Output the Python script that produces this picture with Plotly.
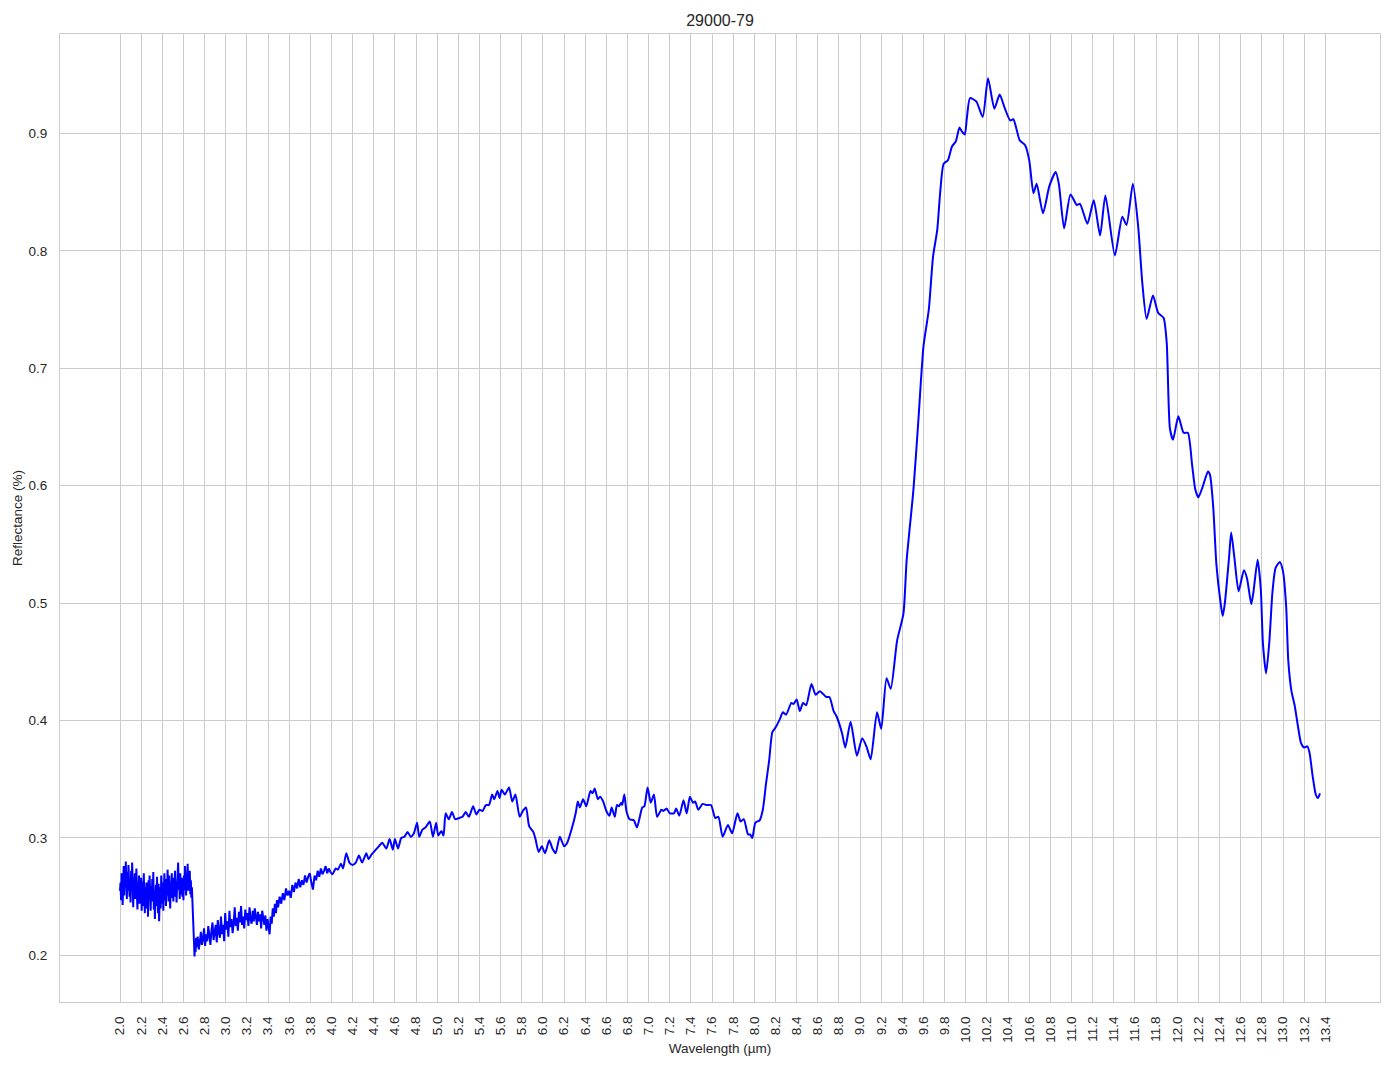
import plotly.graph_objects as go

title_text = "29000-79"
x_label = "Wavelength (µm)"
y_label = "Reflectance (%)"

# Noisy region 2.000 - 2.720 µm
wl_a = [2.000, 2.005, 2.010, 2.015, 2.020, 2.025, 2.030, 2.035, 2.040, 2.045, 2.050,
        2.055, 2.060, 2.065, 2.070, 2.075, 2.080, 2.085, 2.090, 2.095, 2.100,
        2.105, 2.110, 2.115, 2.120, 2.125, 2.130, 2.135, 2.140, 2.145, 2.150,
        2.155, 2.160, 2.165, 2.170, 2.175, 2.180, 2.185, 2.190, 2.195, 2.200,
        2.205, 2.210, 2.215, 2.220, 2.225, 2.230, 2.235, 2.240, 2.245, 2.250,
        2.255, 2.260, 2.265, 2.270, 2.275, 2.280, 2.285, 2.290, 2.295, 2.300,
        2.305, 2.310, 2.315, 2.320, 2.325, 2.330, 2.335, 2.340, 2.345, 2.350,
        2.355, 2.360, 2.365, 2.370, 2.375, 2.380, 2.385, 2.390, 2.395, 2.400,
        2.405, 2.410, 2.415, 2.420, 2.425, 2.430, 2.435, 2.440, 2.445, 2.450,
        2.455, 2.460, 2.465, 2.470, 2.475, 2.480, 2.485, 2.490, 2.495, 2.500,
        2.505, 2.510, 2.515, 2.520, 2.525, 2.530, 2.535, 2.540, 2.545, 2.550,
        2.555, 2.560, 2.565, 2.570, 2.575, 2.580, 2.585, 2.590, 2.595, 2.600,
        2.605, 2.610, 2.615, 2.620, 2.625, 2.630, 2.635, 2.640, 2.645, 2.650,
        2.655, 2.660, 2.665, 2.670, 2.675, 2.680, 2.685, 2.690, 2.695, 2.700,
        2.705, 2.710, 2.715, 2.720]
refl_a = [0.255, 0.262, 0.247, 0.270, 0.266, 0.243, 0.258, 0.276, 0.251, 0.268, 0.259,
          0.280, 0.262, 0.248, 0.271, 0.255, 0.277, 0.269, 0.250, 0.264, 0.245,
          0.272, 0.260, 0.279, 0.254, 0.241, 0.266, 0.258, 0.270, 0.248, 0.262,
          0.274, 0.252, 0.239, 0.261, 0.256, 0.268, 0.244, 0.259, 0.251, 0.266,
          0.238, 0.255, 0.263, 0.242, 0.270, 0.249, 0.236, 0.258, 0.247, 0.262,
          0.240, 0.256, 0.233, 0.264, 0.250, 0.268, 0.243, 0.238, 0.259, 0.246,
          0.265, 0.248, 0.271, 0.239, 0.255, 0.231, 0.252, 0.260, 0.242, 0.267,
          0.250, 0.236, 0.261, 0.229, 0.247, 0.258, 0.240, 0.268, 0.252, 0.244,
          0.262, 0.238, 0.256, 0.270, 0.247, 0.259, 0.242, 0.265, 0.251, 0.273,
          0.255, 0.246, 0.268, 0.252, 0.240, 0.262, 0.257, 0.270, 0.249, 0.261,
          0.246, 0.266, 0.254, 0.272, 0.250, 0.263, 0.245, 0.259, 0.268, 0.279,
          0.256, 0.262, 0.248, 0.270, 0.258, 0.252, 0.266, 0.250, 0.263, 0.247,
          0.268, 0.256, 0.276, 0.260, 0.251, 0.270, 0.262, 0.278, 0.255, 0.266,
          0.258, 0.272, 0.252, 0.264, 0.249, 0.258, 0.246, 0.238, 0.224, 0.210,
          0.199, 0.212, 0.203, 0.215]

# Noisy region 2.725 - 3.990 µm
wl_b = [2.725, 2.735, 2.745, 2.755, 2.765, 2.775, 2.785, 2.795, 2.805, 2.815,
        2.825, 2.835, 2.845, 2.855, 2.865, 2.875, 2.885, 2.895, 2.905, 2.915,
        2.925, 2.935, 2.945, 2.955, 2.965, 2.975, 2.985, 2.995, 3.005, 3.015,
        3.025, 3.035, 3.045, 3.055, 3.065, 3.075, 3.085, 3.095, 3.105, 3.115,
        3.125, 3.135, 3.145, 3.155, 3.165, 3.175, 3.185, 3.195, 3.205, 3.215,
        3.225, 3.235, 3.245, 3.255, 3.265, 3.275, 3.285, 3.295, 3.305, 3.315,
        3.325, 3.335, 3.345, 3.355, 3.365, 3.375, 3.385, 3.395, 3.405, 3.415,
        3.425, 3.435, 3.445, 3.455, 3.465, 3.475, 3.485, 3.495,
        3.510, 3.525, 3.540, 3.555, 3.570, 3.585, 3.600, 3.615, 3.630, 3.645,
        3.660, 3.675, 3.690, 3.705, 3.720, 3.735, 3.750, 3.765, 3.780, 3.795,
        3.810, 3.825, 3.840, 3.855, 3.870, 3.885, 3.900, 3.915, 3.930, 3.945,
        3.960, 3.975, 3.990]
refl_b = [0.207, 0.216, 0.205, 0.211, 0.220, 0.209, 0.214, 0.223, 0.208, 0.218,
          0.212, 0.225, 0.215, 0.209, 0.221, 0.228, 0.213, 0.219, 0.226, 0.211,
          0.230, 0.220, 0.215, 0.233, 0.218, 0.226, 0.212, 0.236, 0.222, 0.229,
          0.216, 0.238, 0.224, 0.231, 0.219, 0.227, 0.241, 0.225, 0.232, 0.221,
          0.237, 0.228, 0.242, 0.226, 0.233, 0.223, 0.239, 0.230, 0.236, 0.225,
          0.241, 0.231, 0.227, 0.238, 0.229, 0.240, 0.232, 0.226, 0.237, 0.229,
          0.235, 0.223, 0.238, 0.230, 0.226, 0.234, 0.221, 0.231, 0.226, 0.218,
          0.233, 0.227, 0.240, 0.233, 0.244, 0.236, 0.247, 0.241,
          0.250, 0.244, 0.253, 0.247, 0.257, 0.251, 0.255, 0.249, 0.260, 0.254,
          0.262, 0.257, 0.265, 0.258, 0.264, 0.260, 0.268, 0.262, 0.267, 0.270,
          0.262, 0.256, 0.268, 0.264, 0.272, 0.267, 0.274, 0.269, 0.272, 0.276,
          0.270, 0.274, 0.271]

# Smoother region 4.01 - 13.35 µm
wl_c = [4.01, 4.04, 4.06, 4.09, 4.11, 4.14, 4.17, 4.20, 4.23, 4.26,
        4.29, 4.33, 4.35, 4.38, 4.42, 4.45, 4.48, 4.52, 4.55, 4.58,
        4.60, 4.63, 4.66, 4.69, 4.72, 4.75, 4.78, 4.81, 4.83, 4.86,
        4.89, 4.93, 4.96, 4.99, 5.01, 5.04, 5.06, 5.08, 5.11, 5.14,
        5.17, 5.21, 5.24, 5.27, 5.30, 5.34, 5.37, 5.40, 5.43, 5.46,
        5.49, 5.52, 5.54, 5.57, 5.59, 5.61, 5.64, 5.68, 5.71, 5.74,
        5.78, 5.81, 5.84, 5.87, 5.91, 5.93, 5.96, 5.99, 6.02, 6.06,
        6.09, 6.12, 6.16, 6.20, 6.23, 6.27, 6.31, 6.33, 6.35, 6.38,
        6.41, 6.45, 6.47, 6.49, 6.52, 6.54, 6.57, 6.60, 6.63, 6.65,
        6.68, 6.70, 6.72, 6.74, 6.75, 6.77, 6.79, 6.82, 6.86, 6.89,
        6.94, 6.96, 6.99, 7.02, 7.05, 7.08, 7.12, 7.14, 7.17, 7.20,
        7.24, 7.26, 7.29, 7.33, 7.36, 7.39, 7.42, 7.44, 7.47, 7.51,
        7.55, 7.59, 7.63, 7.66, 7.70, 7.75, 7.79, 7.84, 7.87, 7.90,
        7.94, 7.96, 7.98, 8.01, 8.05, 8.08, 8.11, 8.14, 8.17, 8.20,
        8.24, 8.27, 8.30, 8.35, 8.37, 8.40, 8.43, 8.46, 8.49, 8.54,
        8.58, 8.62, 8.68, 8.71, 8.75, 8.78, 8.83, 8.86, 8.91, 8.97,
        9.02, 9.06, 9.10, 9.16, 9.20, 9.25, 9.29, 9.35, 9.41, 9.44,
        9.505, 9.55, 9.60, 9.65, 9.69, 9.73, 9.757, 9.79, 9.83, 9.87,
        9.905, 9.94, 9.96, 9.99, 10.01, 10.04, 10.10, 10.16, 10.21, 10.27,
        10.32, 10.37, 10.42, 10.45, 10.51, 10.56, 10.60, 10.64, 10.67, 10.73,
        10.79, 10.85, 10.88, 10.93, 10.99, 11.05, 11.08, 11.15, 11.21, 11.27,
        11.32, 11.41, 11.48, 11.52, 11.58, 11.63, 11.67, 11.71, 11.77, 11.82,
        11.87, 11.90, 11.93, 11.96, 12.01, 12.06, 12.10, 12.14, 12.17, 12.20,
        12.24, 12.29, 12.31, 12.34, 12.37, 12.41, 12.43, 12.45, 12.49, 12.51,
        12.54, 12.58, 12.63, 12.66, 12.70, 12.72, 12.76, 12.79, 12.81, 12.84,
        12.87, 12.90, 12.93, 12.97, 13.00, 13.03, 13.05, 13.08, 13.11, 13.14,
        13.17, 13.20, 13.23, 13.25, 13.28, 13.31, 13.33, 13.35]
refl_c = [0.269, 0.274, 0.273, 0.278, 0.274, 0.287, 0.279, 0.277, 0.279, 0.285,
          0.279, 0.287, 0.282, 0.286, 0.290, 0.293, 0.296, 0.291, 0.299, 0.290,
          0.299, 0.291, 0.300, 0.301, 0.305, 0.301, 0.304, 0.313, 0.301, 0.307,
          0.309, 0.314, 0.301, 0.313, 0.302, 0.306, 0.302, 0.321, 0.316, 0.322,
          0.316, 0.317, 0.318, 0.322, 0.318, 0.327, 0.320, 0.324, 0.323, 0.328,
          0.328, 0.337, 0.333, 0.340, 0.334, 0.341, 0.337, 0.343, 0.331, 0.337,
          0.318, 0.323, 0.326, 0.310, 0.305, 0.299, 0.288, 0.293, 0.287, 0.298,
          0.291, 0.287, 0.301, 0.293, 0.296, 0.307, 0.321, 0.331, 0.326, 0.333,
          0.327, 0.340, 0.338, 0.342, 0.333, 0.335, 0.331, 0.323, 0.319, 0.326,
          0.318, 0.328, 0.327, 0.330, 0.328, 0.337, 0.323, 0.316, 0.315, 0.309,
          0.326, 0.327, 0.343, 0.330, 0.337, 0.318, 0.324, 0.323, 0.325, 0.321,
          0.321, 0.325, 0.319, 0.332, 0.321, 0.335, 0.330, 0.331, 0.324, 0.329,
          0.328, 0.328, 0.317, 0.318, 0.301, 0.311, 0.304, 0.321, 0.314, 0.316,
          0.303, 0.303, 0.300, 0.313, 0.315, 0.324, 0.346, 0.366, 0.390, 0.394,
          0.401, 0.407, 0.405, 0.415, 0.414, 0.418, 0.408, 0.415, 0.413, 0.431,
          0.422, 0.425, 0.420, 0.420, 0.408, 0.403, 0.389, 0.377, 0.399, 0.370,
          0.385, 0.378, 0.367, 0.407, 0.393, 0.436, 0.427, 0.468, 0.491, 0.536,
          0.597, 0.654, 0.719, 0.750, 0.795, 0.818, 0.849, 0.874, 0.877, 0.889,
          0.893, 0.905, 0.902, 0.899, 0.913, 0.930, 0.927, 0.914, 0.947, 0.921,
          0.933, 0.921, 0.911, 0.912, 0.894, 0.890, 0.877, 0.849, 0.857, 0.832,
          0.855, 0.867, 0.857, 0.819, 0.848, 0.839, 0.840, 0.823, 0.843, 0.813,
          0.847, 0.796, 0.829, 0.822, 0.857, 0.821, 0.772, 0.742, 0.762, 0.747,
          0.743, 0.722, 0.649, 0.639, 0.659, 0.645, 0.645, 0.618, 0.597, 0.590,
          0.599, 0.612, 0.609, 0.582, 0.533, 0.500, 0.489, 0.500, 0.539, 0.560,
          0.539, 0.510, 0.528, 0.521, 0.499, 0.509, 0.537, 0.512, 0.466, 0.440,
          0.466, 0.509, 0.530, 0.535, 0.527, 0.497, 0.451, 0.425, 0.413, 0.396,
          0.381, 0.377, 0.378, 0.373, 0.353, 0.337, 0.334, 0.338]

x_ticks = [2.0, 2.2, 2.4, 2.6, 2.8, 3.0, 3.2, 3.4, 3.6, 3.8, 4.0, 4.2, 4.4, 4.6,
           4.8, 5.0, 5.2, 5.4, 5.6, 5.8, 6.0, 6.2, 6.4, 6.6, 6.8, 7.0, 7.2, 7.4,
           7.6, 7.8, 8.0, 8.2, 8.4, 8.6, 8.8, 9.0, 9.2, 9.4, 9.6, 9.8, 10.0, 10.2,
           10.4, 10.6, 10.8, 11.0, 11.2, 11.4, 11.6, 11.8, 12.0, 12.2, 12.4, 12.6,
           12.8, 13.0, 13.2, 13.4]
y_ticks = [0.2, 0.3, 0.4, 0.5, 0.6, 0.7, 0.8, 0.9]

# Noisy part drawn with straight segments, smooth part with a spline;
# the second trace starts at the last noisy sample so the line is continuous.
wl_noisy = wl_a + wl_b
refl_noisy = refl_a + refl_b
wl_smooth = wl_b[-1:] + wl_c
refl_smooth = refl_b[-1:] + refl_c

blue = "#0000ff"
fig = go.Figure()
fig.add_trace(go.Scatter(
    x=wl_noisy, y=refl_noisy, mode="lines",
    line=dict(color=blue, width=2, shape="linear"),
    showlegend=False,
))
fig.add_trace(go.Scatter(
    x=wl_smooth, y=refl_smooth, mode="lines",
    line=dict(color=blue, width=2, shape="spline", smoothing=0.6),
    showlegend=False,
))

font_family = "Liberation Sans, Arial, DejaVu Sans, sans-serif"
grid = "#cccccc"
ink = "#262626"
tick_size = 13.5
label_size = 13.5

# The page adds an 8px body margin, so margins are offset to place the
# plot area where the reference has it.
fig.update_layout(
    width=1394, height=1069,
    margin=dict(l=52, r=22, t=26, b=75, autoexpand=False),
    paper_bgcolor="white", plot_bgcolor="white",
    font=dict(family=font_family, color=ink, size=tick_size),
    title=dict(text=title_text, x=0.5, xref="paper", xanchor="center",
               y=1 - 12 / 1069, yanchor="middle",
               font=dict(size=16, color=ink)),
)
fig.update_xaxes(
    range=[1.4325, 13.9175], automargin=False,
    tickvals=x_ticks, ticktext=[f"{v:.1f}" for v in x_ticks],
    tickangle=-90, tickfont=dict(size=tick_size, color=ink),
    ticks="", ticklabelstandoff=8,
    showgrid=True, gridcolor=grid, gridwidth=1,
    showline=True, linecolor=grid, linewidth=1, mirror=True,
    zeroline=False,
    title=dict(text=x_label, font=dict(size=label_size, color=ink), standoff=1),
)
fig.update_yaxes(
    range=[0.1603, 0.9846], automargin=False,
    tickvals=y_ticks, ticktext=[f"{v:.1f}" for v in y_ticks],
    tickfont=dict(size=tick_size, color=ink),
    ticks="", ticklabelstandoff=9,
    showgrid=True, gridcolor=grid, gridwidth=1,
    showline=True, linecolor=grid, linewidth=1, mirror=True,
    zeroline=False,
    title=dict(text=y_label, font=dict(size=label_size, color=ink), standoff=2),
)

fig.write_html("out.html")
